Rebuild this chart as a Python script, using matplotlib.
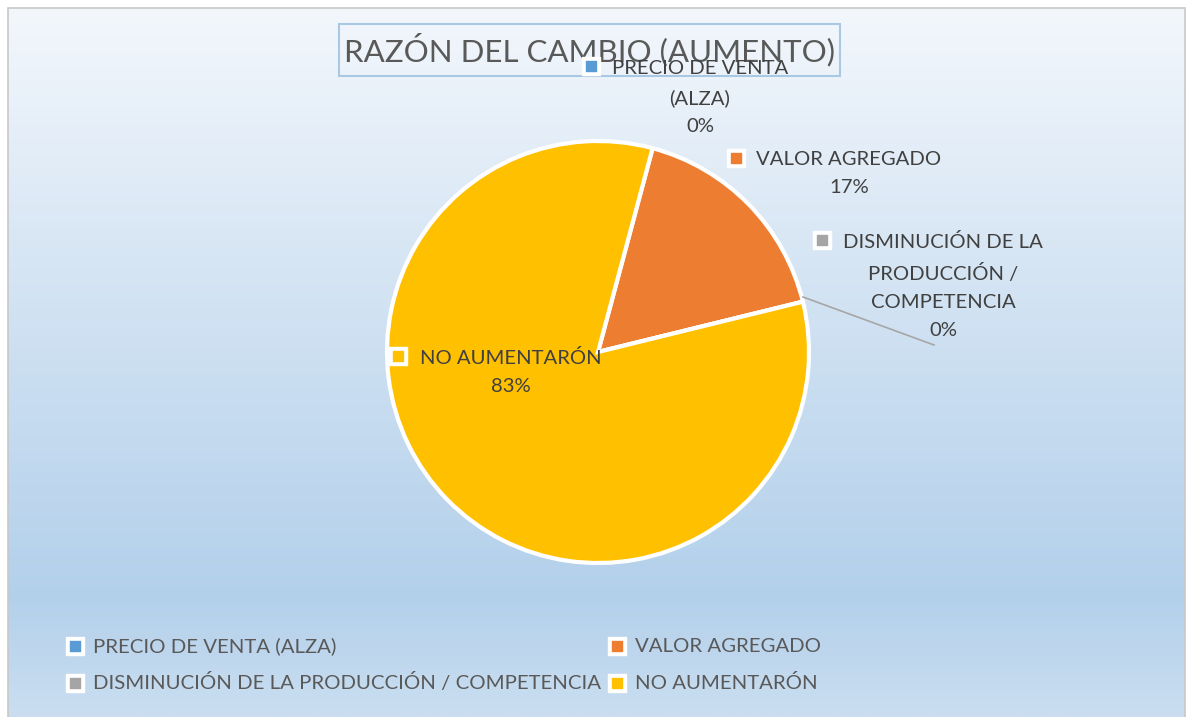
import numpy as np
import matplotlib
matplotlib.use("Agg")
import matplotlib.pyplot as plt
from matplotlib.colors import LinearSegmentedColormap
from matplotlib.patches import Rectangle

plt.rcParams['font.family'] = ['Lato', 'DejaVu Sans']

title = "RAZÓN DEL CAMBIO (AUMENTO)"
categories = ["PRECIO DE VENTA (ALZA)", "VALOR AGREGADO",
              "DISMINUCIÓN DE LA PRODUCCIÓN / COMPETENCIA", "NO AUMENTARÓN"]
label_text = ["PRECIO DE VENTA\n(ALZA)", "VALOR AGREGADO",
              "DISMINUCIÓN DE LA\nPRODUCCIÓN /\nCOMPETENCIA", "NO AUMENTARÓN"]
values = [0, 17, 0, 83]
colors = ["#5b9bd5", "#ed7d31", "#a5a5a5", "#ffc000"]

W, H = 1188, 717
fig = plt.figure(figsize=(W / 100, H / 100), dpi=100)
ax = fig.add_axes([0, 0, 1, 1])
ax.set_xlim(0, W)
ax.set_ylim(0, H)
ax.set_aspect('equal')
ax.axis('off')

# background gradient (pixel coords, y measured from top)
cmap = LinearSegmentedColormap.from_list(
    "bg", [(0, "#f3f7fc"), (0.45, "#cfe1f2"), (0.83, "#b3d0eb"), (1, "#cadef0")])
grad = np.linspace(0, 1, 256).reshape(-1, 1)
ax.imshow(grad, cmap=cmap, aspect='auto', extent=(8, 1185, 0, H - 8), zorder=0)
ax.add_patch(Rectangle((8, -2), 1177, H - 6, fill=False, ec="#c8c8c8", lw=1.2, zorder=1))


def py(y):
    return H - y


# pie
total = sum(values)
wedges, _ = ax.pie(values, colors=colors, startangle=75, counterclock=False,
                   center=(598, py(352)), radius=211, frame=True,
                   wedgeprops=dict(edgecolor="white", linewidth=3))
for w in wedges:
    w.set_zorder(3)
ax.set_xlim(0, W)
ax.set_ylim(0, H)
ax.axis('off')

# title box
ax.add_patch(Rectangle((339, py(76)), 501, 52, fill=False, ec="#a9c8e4", lw=1.5, zorder=4))
ax.text(589, py(50), title, ha="center", va="center", fontsize=22.5, color="#595959", zorder=5)

# data labels
label_pos = [(700, 68), (849, 159), (943, 241), (511, 357)]
txt_color = "#404040"
for i, (x, y) in enumerate(label_pos):
    pct = "{:.0f}%".format(values[i] / total * 100)
    ax.text(x, py(y - 8), label_text[i] + "\n" + pct, ha="center", va="top",
            fontsize=14.6, color=txt_color, linespacing=1.8, zorder=6)

# leader line for the small slice
ax.plot([803, 934], [py(297), py(345)], color="#a6a6a6", lw=1.2, zorder=5)

# markers next to data labels
mark_pos = [(591, 66), (736, 158), (822, 240), (398, 356)]
for i, (x, y) in enumerate(mark_pos):
    ax.scatter(x, py(y), marker="s", s=150, color="white", edgecolors="white", zorder=6)
    ax.scatter(x, py(y), marker="s", s=45, color=colors[i], zorder=7)

# legend
for i, cat in enumerate(categories):
    row, col = i // 2, i % 2
    x = 75 + col * 542
    y = 646 + row * 37
    ax.scatter(x, py(y), marker="s", s=170, color="white", zorder=6)
    ax.scatter(x, py(y), marker="s", s=60, color=colors[i], zorder=7)
    ax.text(x + 18, py(y), cat, ha="left", va="center", fontsize=14.7,
            color="#595959", zorder=6)

fig.savefig("out.png", dpi=100)
